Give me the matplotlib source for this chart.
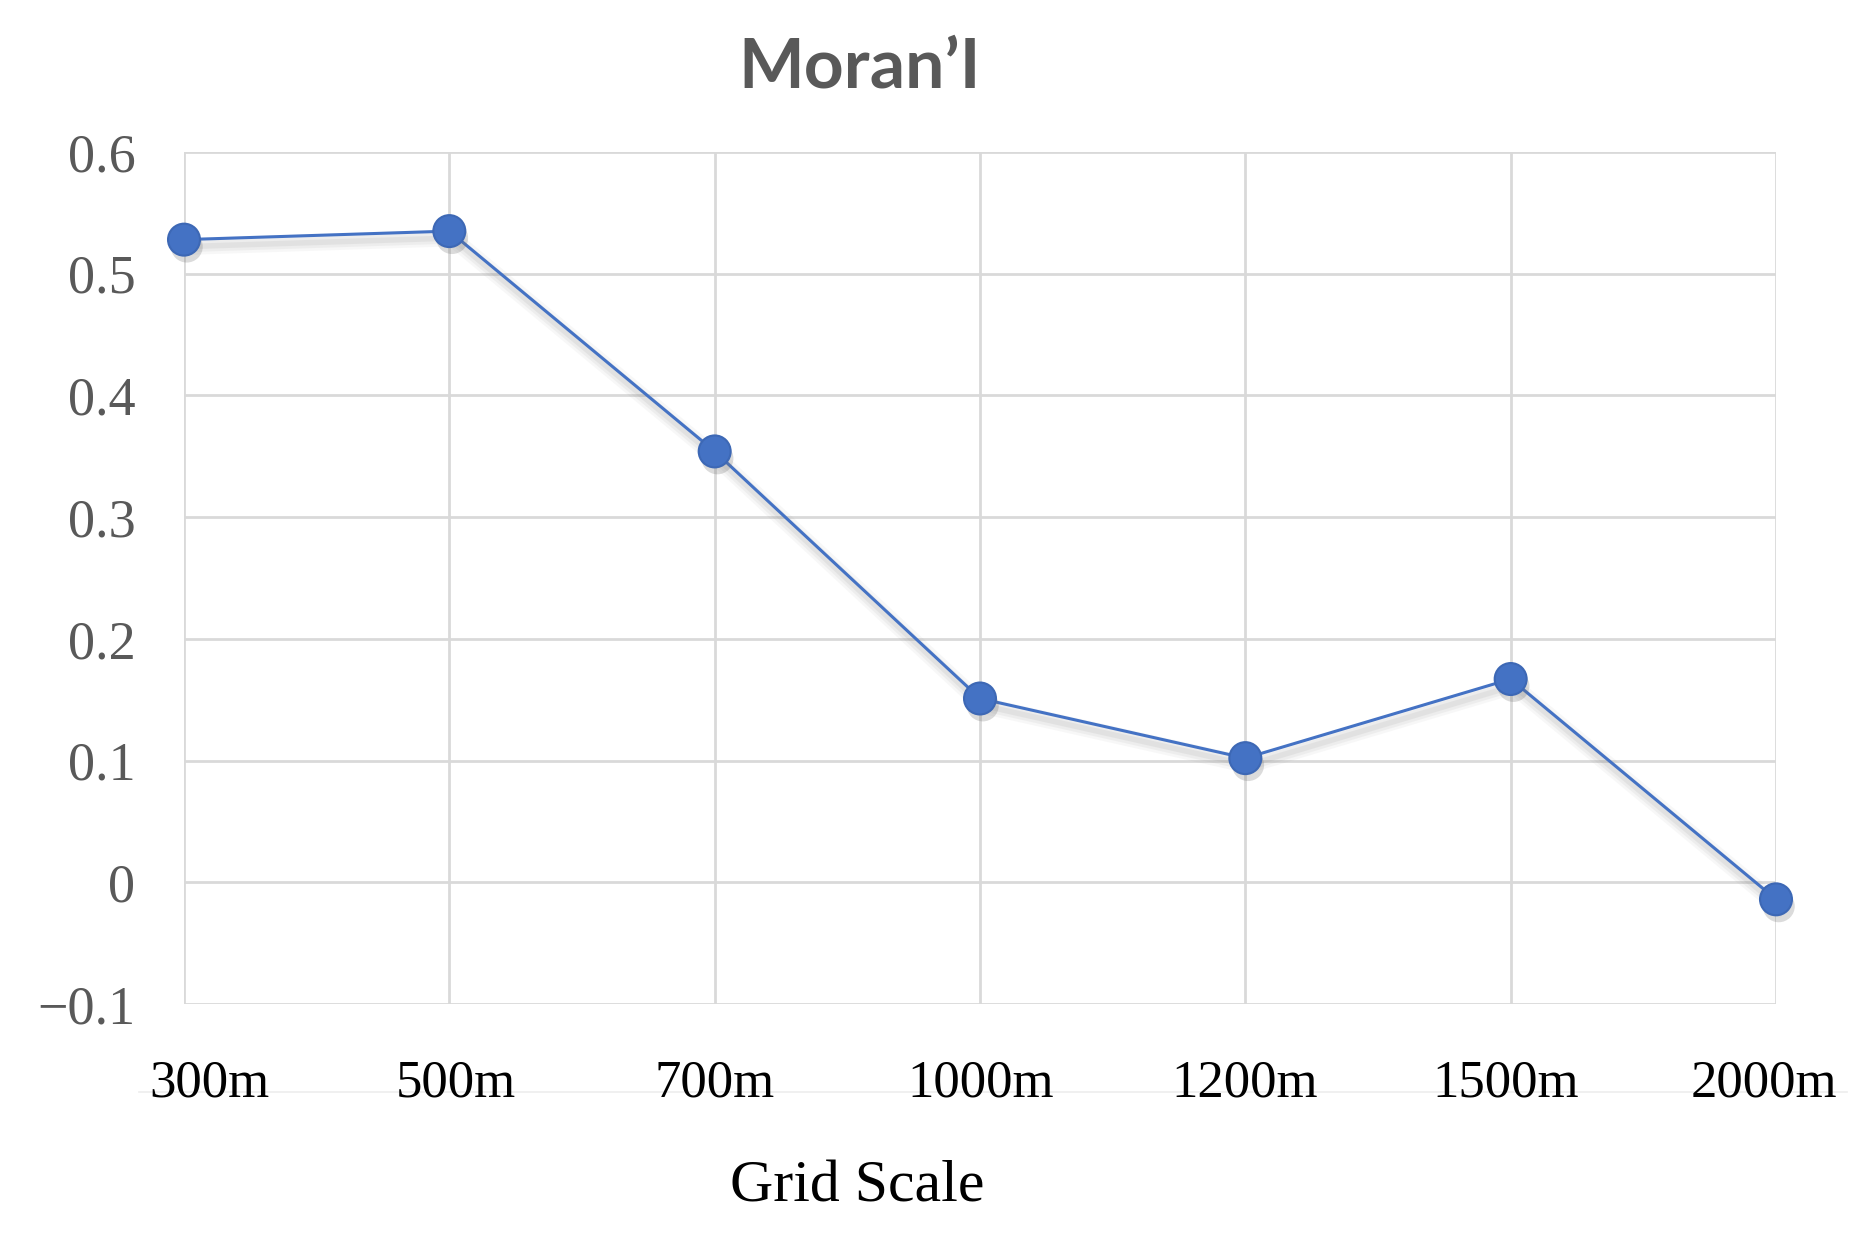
import matplotlib
matplotlib.use("Agg")
import matplotlib.pyplot as plt
import matplotlib.patheffects as pe
import matplotlib.transforms as mtransforms

categories = ["300m", "500m", "700m", "1000m", "1200m", "1500m", "2000m"]
morans_i = [0.528, 0.535, 0.354, 0.151, 0.102, 0.167, -0.014]
y_ticks = [-0.1, 0.0, 0.1, 0.2, 0.3, 0.4, 0.5, 0.6]
y_tick_labels = ["\u22120.1", "0", "0.1", "0.2", "0.3", "0.4", "0.5", "0.6"]

# horizontal nudges (pixels) of the category labels, as placed in the original
label_nudges_px = [25, 7, 0, 1, -1, -5, -12]

fig = plt.figure(figsize=(18.56, 12.4), dpi=100)
ax = fig.add_axes([184/1856, 1 - 1004/1240, (1776-184)/1856, (1004-152)/1240])

x = list(range(len(categories)))
line_shadow = [
    pe.SimpleLineShadow(offset=(2, -5), shadow_color="#808080", alpha=0.06, linewidth=12),
    pe.SimpleLineShadow(offset=(2, -5), shadow_color="#808080", alpha=0.08, linewidth=8),
    pe.SimpleLineShadow(offset=(2, -5), shadow_color="#808080", alpha=0.10, linewidth=4),
    pe.Normal(),
]
ax.plot(x, morans_i, color="#4472C4", lw=2.2, zorder=3, path_effects=line_shadow, clip_on=False)
ax.plot(x, morans_i, linestyle="none", marker="o", markersize=23, markerfacecolor="#4472C4",
        markeredgecolor="#3D68B5", markeredgewidth=1.5, zorder=4, clip_on=False,
        path_effects=[pe.SimplePatchShadow(offset=(2, -5), shadow_rgbFace="#707070", alpha=0.25), pe.Normal()])

ax.set_xlim(0, len(categories) - 1)
ax.set_ylim(-0.1, 0.6)
ax.set_xticks(x)
ax.set_xticklabels(categories, fontfamily="Liberation Serif", fontsize=38, color="black")
ax.set_yticks(y_ticks)
ax.set_yticklabels(y_tick_labels, fontfamily="Liberation Serif", fontsize=39, color="#595959")
ax.tick_params(axis="x", length=0, pad=40)
ax.tick_params(axis="y", length=0, pad=35)
for lbl, dx in zip(ax.get_xticklabels(), label_nudges_px):
    lbl.set_transform(lbl.get_transform() + mtransforms.Affine2D().translate(dx, 0))
for s in ax.spines.values():
    s.set_visible(False)
ax.grid(True, color="#D9D9D9", lw=2.0, zorder=0)
ax.set_axisbelow(True)

# faint line under the category labels
fig.add_artist(plt.Line2D([0.075, 0.995], [1 - 1092/1240]*2, color="#EDEDED", lw=1.2, zorder=0))

fig.text(860/1856, 1 - 87/1240, "Moran\u2019I", ha="center", va="baseline",
         fontfamily="Lato", fontweight="bold", fontsize=50, color="#595959")
fig.text(857/1856, 1 - 1201/1240, "Grid Scale", ha="center", va="baseline",
         fontfamily="Liberation Serif", fontsize=43, color="black")

fig.savefig("out.png", dpi=100, facecolor="white")
